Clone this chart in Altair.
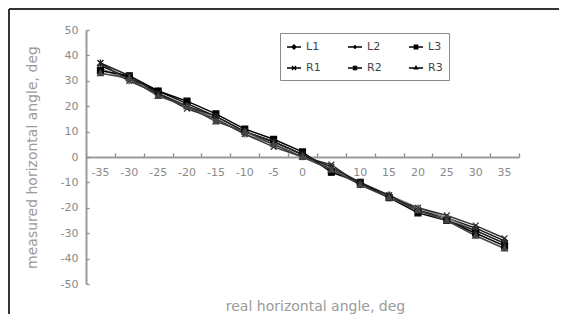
import altair as alt
import pandas as pd

real_angles = [-35, -30, -25, -20, -15, -10, -5, 0, 5, 10, 15, 20, 25, 30, 35]
series_names = ["L1", "L2", "L3", "R1", "R2", "R3"]
L1 = [36, 31, 26, 21, 16, 10, 6, 1, -5, -10, -16, -21, -24, -28, -33]
L2 = [35, 30, 25, 20, 15, 9, 5, 0, -4, -11, -15, -20, -24, -29, -34]
L3 = [34, 32, 26, 22, 17, 11, 7, 2, -6, -10, -16, -22, -25, -30, -35]
R1 = [37, 30, 25, 19, 15, 9, 4, 0, -3, -11, -16, -20, -23, -27, -32]
R2 = [37, 32, 25, 20, 16, 10, 6, 1, -4, -10, -15, -21, -25, -29, -34]
R3 = [33, 31, 24, 20, 14, 10, 5, 0, -5, -11, -16, -21, -25, -31, -36]
y_ticks = [-50, -40, -30, -20, -10, 0, 10, 20, 30, 40, 50]

rows = []
for name, vals in zip(series_names, [L1, L2, L3, R1, R2, R3]):
    for a, v in zip(real_angles, vals):
        rows.append({"series": name, "real": a, "measured": v})
df = pd.DataFrame(rows)

FONT = "DejaVu Sans"
GRAY = "#8a8a8a"
W, H = 433, 254

line_colors = ["#111111", "#808080", "#000000", "#333333", "#222222", "#444444"]
marker_paths = [
    "M0,-1L1,0L0,1L-1,0Z",
    "M0,-1L1,0L0,1L-1,0Z",
    "M-1,-1H1V1H-1Z",
    "M-1,-1L1,1M-1,1L1,-1",
    "M-1,-1L1,1M-1,1L1,-1M0,-1.2V1.2",
    "M0,-1L1,0.8H-1Z",
]
marker_fills = ["#111111", "#808080", "#000000", "transparent", "transparent", "#444444"]
legend_paths = [
    "M-1,0H1M0,-0.3L0.3,0L0,0.3L-0.3,0Z",
    "M-1,0H1M0,-0.2L0.2,0L0,0.2L-0.2,0Z",
    "M-1,0H1M-0.25,-0.25H0.25V0.25H-0.25Z",
    "M-1,0H1M-0.3,-0.3L0.3,0.3M-0.3,0.3L0.3,-0.3",
    "M-1,0H1M-0.3,-0.3L0.3,0.3M-0.3,0.3L0.3,-0.3M0,-0.35V0.35",
    "M-1,0H1M0,-0.25L0.22,0.12H-0.22Z",
]

xscale = alt.Scale(type="band", domain=real_angles, paddingInner=0, paddingOuter=0)
yscale = alt.Scale(domain=[-50, 50], nice=False, zero=False)
cscale = alt.Scale(domain=series_names, range=line_colors)

base = alt.Chart(df)

lines = base.mark_line(strokeWidth=1.5).encode(
    x=alt.X("real:O", scale=xscale, sort=real_angles,
            axis=alt.Axis(orient="bottom", offset=-H / 2, domain=False, ticks=False,
                          labelPadding=9, labelAngle=0, labelFont=FONT, labelFontSize=11,
                          labelColor=GRAY, title=None, grid=False)),
    y=alt.Y("measured:Q", scale=yscale,
            axis=alt.Axis(orient="left", values=y_ticks, ticks=False, domainColor="#9a9a9a",
                          domainWidth=2, labelPadding=8, labelFont=FONT, labelFontSize=11,
                          labelColor=GRAY, labelExpr="'' + datum.value", grid=False,
                          title="measured horizontal angle, deg", titleFont=FONT,
                          titleFontSize=14, titleFontWeight="normal", titleColor="#9a9a9a",
                          titlePadding=21)),
    color=alt.Color("series:N", scale=cscale, legend=None),
)

points = base.mark_point(filled=False, strokeWidth=1.3, size=34, opacity=1).encode(
    x=alt.X("real:O", scale=xscale, sort=real_angles,
            axis=alt.Axis(orient="top", offset=-H / 2, domain=True, domainColor="#9a9a9a",
                          domainWidth=2, ticks=True, tickBand="extent", tickSize=4,
                          tickColor="#8a8a8a", tickWidth=1.3, labels=False, title=None,
                          grid=False)),
    y=alt.Y("measured:Q", scale=yscale,
            axis=alt.Axis(orient="right", offset=-W, values=y_ticks, domain=False,
                          ticks=True, tickSize=3, tickColor="#8a8a8a", tickWidth=1.3,
                          labels=False, title=None, grid=False)),
    color=alt.Color("series:N", scale=cscale, legend=None),
    shape=alt.Shape("series:N", scale=alt.Scale(domain=series_names, range=marker_paths),
                    legend=None),
    fill=alt.Fill("series:N", scale=alt.Scale(domain=series_names, range=marker_fills),
                  legend=None),
)

legend_layer = base.mark_point(filled=False, fill="black", stroke="black", opacity=0).encode(
    x=alt.X("real:O", scale=xscale, sort=real_angles, axis=None),
    y=alt.Y("measured:Q", scale=yscale, axis=None),
    shape=alt.Shape("series:N", scale=alt.Scale(domain=series_names, range=legend_paths),
                    legend=alt.Legend(orient="none", legendX=194, legendY=3, columns=3,
                                      direction="horizontal",
                                      title=None, symbolSize=196, symbolStrokeWidth=1.3,
                                      symbolOpacity=1, labelFont=FONT, labelFontSize=11,
                                      labelColor="#444444", labelOffset=4, columnPadding=24,
                                      rowPadding=8, padding=6, strokeColor="#8a8a8a",
                                      fillColor="white")),
)

frame_df = pd.DataFrame({"k": [0]})
frame_left = alt.Chart(frame_df).mark_rule(color="#333333", strokeWidth=2).encode(
    x=alt.value(-77), y=alt.value(-21), y2=alt.value(H + 30))
frame_top = alt.Chart(frame_df).mark_rule(color="#333333", strokeWidth=2).encode(
    x=alt.value(-77), x2=alt.value(W + 60), y=alt.value(-21))

chart = alt.layer(frame_left, frame_top, lines, points, legend_layer).resolve_scale(
    shape="independent"
).resolve_axis(
    x="independent", y="independent"
).properties(
    width=W, height=H,
    autosize=alt.AutoSizeParams(type="none"),
    padding={"left": 78, "top": 22, "right": 40, "bottom": 30},
    background="white",
    title=alt.TitleParams("real horizontal angle, deg", orient="bottom", anchor="middle",
                          frame="group", font=FONT, fontSize=14, fontWeight="normal",
                          color="#9a9a9a", offset=0, dy=-15, dx=13),
).configure_view(stroke=None)

chart.save("out.html", embed_options={"renderer": "svg", "actions": False})
